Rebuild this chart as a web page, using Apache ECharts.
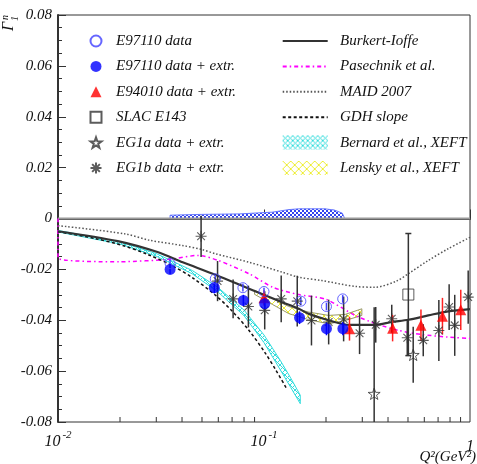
<!DOCTYPE html>
<html>
<head>
<meta charset="utf-8">
<script src="https://cdn.jsdelivr.net/npm/echarts@6/dist/echarts.min.js"></script>
<style>
html, body { margin: 0; padding: 0; background: #fff; }
#main { width: 477px; height: 464px; }
</style>
</head>
<body>
<div id="main"></div>
<script>
// ---- data (Q^2 in GeV^2, Gamma_1^n) ----
var e97110Q2 = [0.035, 0.058, 0.079, 0.100, 0.151, 0.201, 0.241];
var e97110Val = [-0.0177, -0.0237, -0.0272, -0.0287, -0.0325, -0.0346, -0.0316];
var e97110Err = [0.0015, 0.0015, 0.0015, 0.0015, 0.0015, 0.0015, 0.0015];

var e97110ExtrQ2 = [0.035, 0.0574, 0.0794, 0.1008, 0.1488, 0.201, 0.2415];
var e97110ExtrVal = [-0.0200, -0.0272, -0.0322, -0.0335, -0.0390, -0.0433, -0.0433];
var e97110ExtrErr = [0.0018, 0.0022, 0.0022, 0.0024, 0.0025, 0.0026, 0.0026];

var e94010Q2 = [0.100, 0.260, 0.421, 0.578, 0.735, 0.902];
var e94010Val = [-0.0312, -0.0433, -0.0431, -0.0420, -0.0384, -0.0359];
var e94010Err = [0.0030, 0.0047, 0.0052, 0.0062, 0.0072, 0.0079];

var slacQ2 = [0.502];
var slacVal = [-0.0299];
var slacErr = [0.024];

var eg1aQ2 = [0.3426, 0.530];
var eg1aVal = [-0.0689, -0.0536];
var eg1aErr = [0.034, 0.011];

var eg1bQ2 = [0.0495, 0.0595, 0.0708, 0.084, 0.1008, 0.1212, 0.145, 0.170, 0.206, 0.2435, 0.291, 0.3487, 0.417, 0.496, 0.593, 0.706, 0.792, 0.843, 0.98];
var eg1bVal = [-0.0070, -0.0246, -0.0316, -0.0346, -0.0361, -0.0316, -0.0325, -0.0401, -0.0407, -0.0395, -0.0451, -0.0418, -0.0394, -0.0469, -0.0479, -0.0440, -0.0348, -0.0420, -0.0309];
var eg1bErr = [0.0081, 0.0079, 0.0076, 0.0082, 0.0075, 0.0092, 0.0100, 0.0098, 0.0088, 0.0088, 0.0082, 0.0070, 0.0055, 0.0070, 0.0063, 0.0120, 0.0090, 0.0120, 0.0105];

// theory curves
var burkertQ2 = [0.01, 0.0195, 0.0304, 0.0403, 0.0584, 0.0846, 0.1226, 0.1476, 0.165, 0.206, 0.26, 0.3465, 0.417, 0.502, 0.627, 0.783, 1.0];
var burkertVal = [-0.0050, -0.0089, -0.0132, -0.0172, -0.0222, -0.0276, -0.0329, -0.0355, -0.0375, -0.0400, -0.0418, -0.0418, -0.0407, -0.0398, -0.0381, -0.0365, -0.0356];

var pasechnikQ2 = [0.01, 0.01, 0.02, 0.035, 0.048, 0.06, 0.085, 0.11, 0.145, 0.2, 0.277, 0.35, 0.45, 0.58, 0.78, 1.0];
var pasechnikVal = [0, -0.0155, -0.0170, -0.0160, -0.0145, -0.0165, -0.0218, -0.0270, -0.0298, -0.0318, -0.0381, -0.0414, -0.0440, -0.0456, -0.0466, -0.0472];

var maidQ2 = [0.01, 0.021, 0.028, 0.040, 0.050, 0.0584, 0.0846, 0.1226, 0.1476, 0.191, 0.277, 0.3465, 0.44, 0.502, 0.627, 0.783, 1.0];
var maidVal = [-0.0028, -0.0060, -0.0086, -0.0106, -0.0122, -0.0139, -0.0172, -0.0211, -0.0231, -0.0244, -0.0267, -0.0270, -0.0246, -0.0217, -0.0165, -0.0119, -0.0074];

var gdhQ2 = [0.01, 0.015, 0.021, 0.027, 0.0352, 0.045, 0.0584, 0.07, 0.0846, 0.1016, 0.114, 0.128];
var gdhVal = [-0.0052, -0.0078, -0.0108, -0.0140, -0.0182, -0.0233, -0.0303, -0.0364, -0.0440, -0.0530, -0.0595, -0.0665];

var bernardQ2 = [0.01, 0.02, 0.03, 0.045, 0.06, 0.08, 0.10, 0.12, 0.135, 0.15];
var bernardHi = [-0.0047, -0.0092, -0.0138, -0.0205, -0.0272, -0.0360, -0.0458, -0.0558, -0.0628, -0.0695];
var bernardLo = [-0.0053, -0.0100, -0.0148, -0.0218, -0.0290, -0.0382, -0.0488, -0.0595, -0.0665, -0.0728];

var lenskyQ2 = [0.09, 0.11, 0.132, 0.165, 0.206, 0.248, 0.2985];
var lenskyHi = [-0.0282, -0.0315, -0.0346, -0.0368, -0.0381, -0.0377, -0.0355];
var lenskyLo = [-0.0298, -0.0338, -0.0374, -0.0398, -0.0414, -0.0401, -0.0381];

// systematic band near zero
var sysQ2 = [0.035, 0.0485, 0.0757, 0.110, 0.132, 0.1476, 0.198, 0.22, 0.24, 0.245];
var sysHi = [0.0013, 0.0016, 0.0018, 0.0025, 0.0035, 0.0038, 0.0038, 0.0033, 0.0021, 0.0005];
var sysLo = [0, 0, 0, 0, 0, 0, 0, 0, 0, 0];

var minorTickValues = [0.02, 0.03, 0.04, 0.05, 0.06, 0.07, 0.08, 0.09, 0.2, 0.3, 0.4, 0.5, 0.6, 0.7, 0.8, 0.9];

var leftNames = ['E97110 data', 'E97110 data + extr.', 'E94010 data + extr.', 'SLAC E143', 'EG1a data + extr.', 'EG1b data + extr.'];
var rightNames = ['Burkert-Ioffe', 'Pasechnik et al.', 'MAID 2007', 'GDH slope', 'Bernard et al., XEFT', 'Lensky et al., XEFT'];

// ---- helpers ----
var FONT = '"Liberation Serif", "DejaVu Serif", serif';

function pairs(xs, ys) {
    return xs.map(function (x, i) { return [x, ys[i]]; });
}

function pattern(color, kind) {
    var c = document.createElement('canvas');
    var n = kind === 'yellow' ? 8 : (kind === 'blue' ? 4 : 5);
    c.width = n; c.height = n;
    var g = c.getContext('2d');
    g.fillStyle = '#fff';
    g.fillRect(0, 0, n, n);
    if (kind === 'blue') {
        g.fillStyle = color;
        g.fillRect(0, 0, 2, 2);
        g.fillRect(2, 2, 2, 2);
    } else {
        g.strokeStyle = color;
        g.lineWidth = 1;
        g.beginPath();
        g.moveTo(0, 0); g.lineTo(n, n);
        g.moveTo(n, 0); g.lineTo(0, n);
        g.stroke();
    }
    return { image: c, repeat: 'repeat' };
}

var cyanFill = pattern('#33dddd', 'cyan');
var yellowFill = pattern('#eeee33', 'yellow');
var blueFill = pattern('#3344ee', 'blue');

function errorBars(name, xs, ys, errs, color, caps) {
    return {
        type: 'custom',
        name: name,
        clip: true,
        silent: true,
        z: 3,
        data: xs.map(function (x, i) { return [x, ys[i] - errs[i], ys[i] + errs[i]]; }),
        encode: { x: 0, y: [1, 2] },
        renderItem: function (params, api) {
            var lo = api.coord([api.value(0), api.value(1)]);
            var hi = api.coord([api.value(0), api.value(2)]);
            var kids = [{
                type: 'line',
                shape: { x1: lo[0], y1: lo[1], x2: hi[0], y2: hi[1] },
                style: { stroke: color, lineWidth: 1.5 }
            }];
            if (caps) {
                kids.push({ type: 'line', shape: { x1: lo[0] - 3, y1: lo[1], x2: lo[0] + 3, y2: lo[1] }, style: { stroke: color, lineWidth: 1.5 } });
                kids.push({ type: 'line', shape: { x1: hi[0] - 3, y1: hi[1], x2: hi[0] + 3, y2: hi[1] }, style: { stroke: color, lineWidth: 1.5 } });
            }
            return { type: 'group', children: kids };
        }
    };
}

function band(name, xs, lo, hi, fill, stroke, z) {
    return {
        type: 'custom',
        name: name,
        clip: true,
        z: z,
        itemStyle: { color: fill },
        data: xs.map(function (x, i) { return [x, lo[i], hi[i]]; }),
        encode: { x: 0, y: [1, 2] },
        renderItem: function (params, api) {
            if (params.dataIndex !== 0) return;
            var pts = [];
            for (var i = 0; i < xs.length; i++) pts.push(api.coord([xs[i], hi[i]]));
            for (var j = xs.length - 1; j >= 0; j--) pts.push(api.coord([xs[j], lo[j]]));
            return {
                type: 'polygon',
                shape: { points: pts },
                style: { fill: fill, stroke: stroke, lineWidth: 1 }
            };
        }
    };
}

var asteriskPath = 'path://M10,0L10,20M0,10L20,10M3,3L17,17M3,17L17,3';
var starPath = 'path://M10,0L12.35,6.76L19.51,6.91L13.8,11.24L15.88,18.09L10,14L4.12,18.09L6.2,11.24L0.49,6.91L7.65,6.76Z';

var chartDom = document.getElementById('main');
var myChart = echarts.init(chartDom, null, { renderer: 'canvas' });

var legendText = { fontFamily: FONT, fontStyle: 'italic', fontSize: 15, color: '#111', lineHeight: 16 };

var option = {
    animation: false,
    backgroundColor: '#fff',
    grid: { left: 58, top: 15, width: 415, height: 407, show: true, borderColor: '#333', borderWidth: 1, backgroundColor: 'transparent' },
    legend: [
        {
            data: leftNames,
            orient: 'vertical',
            left: 89.5, top: 33, padding: 0,
            itemWidth: 11, itemHeight: 11, itemGap: 9.4,
            selectedMode: false,
            textStyle: Object.assign({ padding: [0, 0, 0, 9.5] }, legendText)
        },
        {
            data: rightNames.map(function (n, i) {
                if (i === 4) return { name: n, icon: 'rect', itemStyle: { color: cyanFill, borderWidth: 0 } };
                if (i === 5) return { name: n, icon: 'rect', itemStyle: { color: yellowFill, borderWidth: 0 } };
                return { name: n, itemStyle: { opacity: 0 } };
            }),
            orient: 'vertical',
            left: 281.7, top: 33, padding: 0,
            itemWidth: 45, itemHeight: 14, itemGap: 9.4,
            selectedMode: false,
            textStyle: Object.assign({ padding: [0, 0, 0, 7.3] }, legendText)
        }
    ],
    xAxis: {
        type: 'log',
        logBase: 10,
        min: 0.01,
        max: 1,
        axisLine: { lineStyle: { color: '#333', width: 2 } },
        axisTick: { inside: true, length: 9, lineStyle: { color: '#333', width: 1 } },
        splitLine: { show: false },
        axisLabel: {
            margin: 8,
            formatter: function (v) {
                var e = Math.round(Math.log10(v));
                if (e === 0) return '{u|1}';
                return '{t|10}{s|' + e + '}';
            },
            rich: {
                t: { fontFamily: FONT, fontStyle: 'italic', fontSize: 16, color: '#111' },
                u: { fontFamily: FONT, fontStyle: 'italic', fontSize: 16, color: '#111', padding: [9, 0, 0, 0] },
                s: { fontFamily: FONT, fontStyle: 'italic', fontSize: 11, color: '#111', padding: [0, 0, 12, 2] }
            }
        }
    },
    yAxis: {
        type: 'value',
        min: -0.08,
        max: 0.08,
        interval: 0.02,
        axisLine: { show: true, lineStyle: { color: '#333', width: 2 } },
        axisTick: { inside: true, length: 8, lineStyle: { color: '#333', width: 1 } },
        minorTick: { show: true, splitNumber: 4, length: 4, lineStyle: { color: '#333', width: 1 } },
        splitLine: { show: false },
        axisLabel: {
            margin: 6,
            fontFamily: FONT, fontStyle: 'italic', fontSize: 15, color: '#111',
            formatter: function (v) { return Math.abs(v) < 1e-9 ? '0' : v.toFixed(2); }
        }
    },
    graphic: [
        {
            type: 'group', x: 17, y: 31, rotation: Math.PI / 2,
            children: [
                { type: 'text', x: 0, y: 0, style: { text: '\u0393', font: 'italic 16px ' + FONT, fill: '#111', verticalAlign: 'bottom' } },
                { type: 'text', x: 10, y: 3, style: { text: '1', font: 'italic 10px ' + FONT, fill: '#111', verticalAlign: 'bottom' } },
                { type: 'text', x: 11, y: -7, style: { text: 'n', font: 'italic 10px ' + FONT, fill: '#111', verticalAlign: 'bottom' } }
            ]
        },
        {
            type: 'text', right: 1, top: 450,
            style: { text: 'Q\u00b2(GeV\u00b2)', font: 'italic 15px ' + FONT, fill: '#111' }
        }
    ],
    series: [
        // zero line
        { type: 'line', name: 'zero', data: [[0.01, 0], [1, 0]], symbol: 'none', silent: true, z: 1,
          lineStyle: { color: '#999', width: 2 } },
        band('sys', sysQ2, sysLo, sysHi, blueFill, '#6677ff', 1),
        band('Bernard et al., XEFT', bernardQ2, bernardLo, bernardHi, cyanFill, '#33dddd', 1),
        band('Lensky et al., XEFT', lenskyQ2, lenskyLo, lenskyHi, yellowFill, '#999966', 1),
        { type: 'line', name: 'MAID 2007', data: pairs(maidQ2, maidVal), symbol: 'none', smooth: 0.3, z: 2,
          lineStyle: { color: '#555', width: 1.5, type: [1.5, 2] } },
        { type: 'line', name: 'Pasechnik et al.', data: pairs(pasechnikQ2, pasechnikVal), symbol: 'none', smooth: 0.25, z: 2,
          lineStyle: { color: '#ff00ff', width: 1.5, type: [4, 3, 1.5, 3] } },
        { type: 'line', name: 'GDH slope', data: pairs(gdhQ2, gdhVal), symbol: 'none', smooth: 0.3, z: 2,
          lineStyle: { color: '#111', width: 1.5, type: [3, 2.5] } },
        { type: 'line', name: 'Burkert-Ioffe', data: pairs(burkertQ2, burkertVal), symbol: 'none', smooth: 0.3, z: 2,
          lineStyle: { color: '#333', width: 2.2 } },
        // minor ticks of the log axis
        {
            type: 'custom', name: 'minor', silent: true, z: 5,
            data: minorTickValues.map(function (v) { return [v, -0.08]; }),
            encode: { x: 0, y: 1 },
            renderItem: function (params, api) {
                var p = api.coord([api.value(0), api.value(1)]);
                return { type: 'line', shape: { x1: p[0], y1: p[1], x2: p[0], y2: p[1] - 5 }, style: { stroke: '#333', lineWidth: 1 } };
            }
        },
        errorBars('eg1b err', eg1bQ2, eg1bVal, eg1bErr, '#333', false),
        errorBars('eg1a err', eg1aQ2, eg1aVal, eg1aErr, '#333', false),
        errorBars('slac err', slacQ2, slacVal, slacErr, '#333', true),
        errorBars('e94010 err', e94010Q2, e94010Val, e94010Err, '#ff2222', false),
        errorBars('e97110x err', e97110ExtrQ2, e97110ExtrVal, e97110ExtrErr, '#0000ff', false),
        errorBars('e97110 err', e97110Q2, e97110Val, e97110Err, '#4444ff', false),
        { type: 'scatter', name: 'EG1b data + extr.', data: pairs(eg1bQ2, eg1bVal), z: 4,
          symbol: asteriskPath, symbolSize: 11, symbolKeepAspect: true,
          itemStyle: { color: 'rgba(0,0,0,0)', borderColor: '#333', borderWidth: 1.1 } },
        { type: 'scatter', name: 'EG1a data + extr.', data: pairs(eg1aQ2, eg1aVal), z: 4,
          symbol: starPath, symbolSize: 12, symbolKeepAspect: true,
          itemStyle: { color: 'rgba(255,255,255,0)', borderColor: '#333', borderWidth: 1 } },
        { type: 'scatter', name: 'SLAC E143', data: pairs(slacQ2, slacVal), z: 4,
          symbol: 'rect', symbolSize: 11,
          itemStyle: { color: 'rgba(255,255,255,0)', borderColor: '#333', borderWidth: 1 } },
        { type: 'scatter', name: 'E94010 data + extr.', data: pairs(e94010Q2, e94010Val), z: 4,
          symbol: 'triangle', symbolSize: 11,
          itemStyle: { color: '#ff0000' } },
        { type: 'scatter', name: 'E97110 data + extr.', data: pairs(e97110ExtrQ2, e97110ExtrVal), z: 4,
          symbol: 'circle', symbolSize: 11,
          itemStyle: { color: '#0000ff' } },
        { type: 'scatter', name: 'E97110 data', data: pairs(e97110Q2, e97110Val), z: 4,
          symbol: 'circle', symbolSize: 10,
          itemStyle: { color: 'rgba(255,255,255,0)', borderColor: '#4040ff', borderWidth: 1 } }
    ]
};

myChart.setOption(option);
</script>
</body>
</html>
